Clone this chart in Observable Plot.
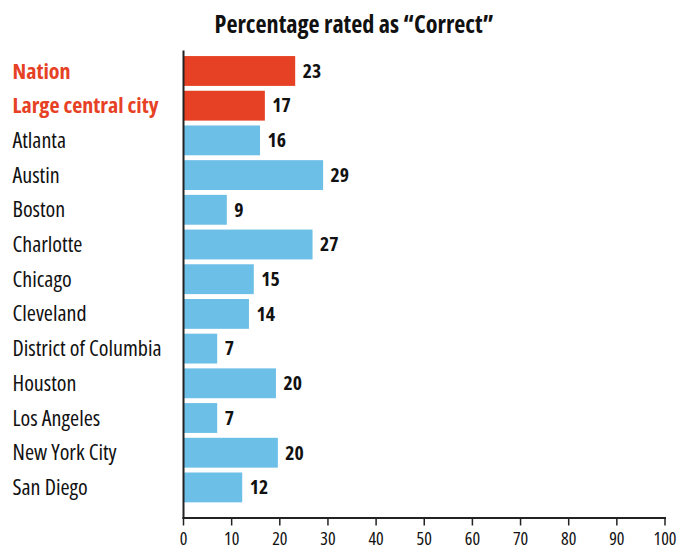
<!DOCTYPE html>
<html>
<head>
<meta charset="utf-8">
<script src="https://cdn.jsdelivr.net/npm/d3@7"></script>
<script src="https://cdn.jsdelivr.net/npm/@observablehq/plot@0.6"></script>
<style>
  html, body { margin: 0; padding: 0; background: #fff; }
  #wrap { width: 681px; position: relative; }
  #title { position: relative; height: 40px; }
  #title span { position: absolute; left: 354px; transform: translateX(-50%); font-weight: bold; line-height: 1; color: #111; white-space: nowrap; }
  svg { display: block; overflow: visible; }
</style>
</head>
<body>
<div id="wrap">
  <div id="title"><span>Percentage rated as “Correct”</span></div>
  <div id="chart"></div>
</div>
<script>
const categories = ["Nation", "Large central city", "Atlanta", "Austin", "Boston", "Charlotte", "Chicago", "Cleveland", "District of Columbia", "Houston", "Los Angeles", "New York City", "San Diego"];
const values = [23.3, 17.0, 16.0, 29.1, 9.1, 26.9, 14.7, 13.7, 7.1, 19.3, 7.1, 19.7, 12.3];
const valueLabels = ["23", "17", "16", "29", "9", "27", "15", "14", "7", "20", "7", "20", "12"];
const groups = ["benchmark", "benchmark", "city", "city", "city", "city", "city", "city", "city", "city", "city", "city", "city"];
const xTicks = [0, 10, 20, 30, 40, 50, 60, 70, 80, 90, 100];

const red = "#E64125";
const blue = "#6CBFE6";
const ink = "#111";

const data = categories.map((c, i) => ({name: c, value: values[i], label: valueLabels[i], group: groups[i]}));
const bench = data.filter(d => d.group === "benchmark");
const cities = data.filter(d => d.group !== "benchmark");

// pick the narrowest installed condensed face
const ctx = document.createElement("canvas").getContext("2d");
function measure(text, weight, size, fam) {
  ctx.font = `${weight} ${fam.stretch} ${size}px ${fam.family}`;
  return ctx.measureText(text).width;
}
const candidates = [
  {family: "'Liberation Sans Narrow'", stretch: "normal"},
  {family: "'Arial Narrow'", stretch: "normal"},
  {family: "'Liberation Sans'", stretch: "condensed"},
  {family: "'DejaVu Sans Condensed'", stretch: "normal"},
  {family: "'DejaVu Sans'", stretch: "condensed"},
  {family: "'Roboto'", stretch: "condensed"},
  {family: "'Open Sans'", stretch: "condensed"}
];
let best = candidates[0], bestW = Infinity;
for (const c of candidates) {
  const w = measure("District of Columbia", "normal", 21, c);
  if (w < bestW - 0.5) { bestW = w; best = c; }
}
const fontFamily = best.family + ", sans-serif";
function fit(text, weight, target, maxSize) {
  const w = measure(text, weight, 100, best);
  return Math.min(maxSize, 100 * target / w);
}
const labelSize = Math.min(fit("District of Columbia", "normal", 153, 23.5), fit("Large central city", "bold", 146, 23.5));
const valueSize = fit("23", "bold", 18.5, 21.5);
const tickFont = 18;
const titleSize = fit("Percentage rated as “Correct”", "bold", 279, 25);

const t = document.querySelector("#title span");
t.style.fontFamily = fontFamily;
t.style.fontStretch = best.stretch;
t.style.fontSize = titleSize + "px";
t.style.top = (34 - 0.9 * titleSize) + "px";

const chart = Plot.plot({
  width: 681,
  height: 512,
  marginLeft: 183,
  marginRight: 16.5,
  marginTop: 11,
  marginBottom: 34.5,
  insetTop: 0.2,
  insetBottom: 10.3,
  style: {fontFamily, fontStretch: best.stretch, fontSize: labelSize + "px", color: ink, background: "#fff", overflow: "visible"},
  x: {domain: [0, 100]},
  y: {domain: categories, padding: 0.14, round: false, axis: null},
  color: {domain: ["benchmark", "city"], range: [red, blue]},
  marks: [
    Plot.barX(data, {x: "value", y: "name", fill: "group"}),
    Plot.text(bench, {y: "name", text: "name", frameAnchor: "left", dx: -171, textAnchor: "start", fill: red, fontWeight: "bold", fontSize: labelSize}),
    Plot.text(cities, {y: "name", text: "name", frameAnchor: "left", dx: -171, textAnchor: "start", fill: ink, fontWeight: "normal", fontSize: labelSize}),
    Plot.text(data, {x: "value", y: "name", text: "label", dx: 7, textAnchor: "start", fontWeight: "bold", fontSize: valueSize, fill: ink}),
    Plot.axisX({ticks: xTicks, tickSize: 8, tickPadding: 6, tickFormat: d => String(d), fontSize: tickFont, stroke: "#222", strokeWidth: 1.5, fill: ink, label: null}),
    Plot.frame({anchor: "bottom", stroke: "#222", strokeWidth: 2}),
    Plot.frame({anchor: "left", stroke: "#222", strokeWidth: 2})
  ]
});
document.getElementById("chart").appendChild(chart);
</script>
</body>
</html>
